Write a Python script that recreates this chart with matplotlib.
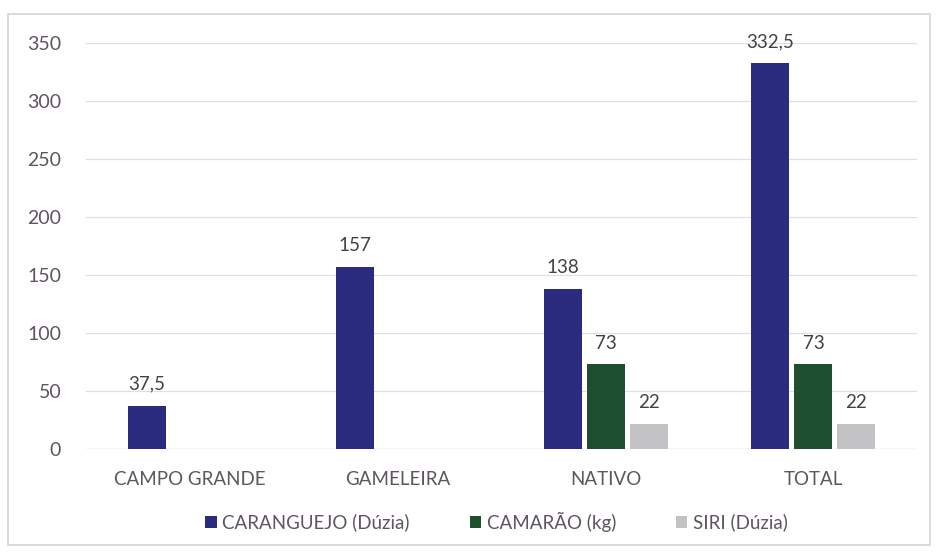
import numpy as np
import matplotlib
matplotlib.use("Agg")
import matplotlib.pyplot as plt
from matplotlib.patches import Rectangle

categories = ["CAMPO GRANDE", "GAMELEIRA", "NATIVO", "TOTAL"]
caranguejo = [37.5, 157, 138, 332.5]
camarao = [0, 0, 73, 73]
siri = [0, 0, 22, 22]
series_names = ["CARANGUEJO (Dúzia)", "CAMARÃO (kg)", "SIRI (Dúzia)"]
colors = ["#2b2b80", "#1e4f2e", "#c3c3c6"]
text_color = "#5e5560"

plt.rcParams["font.family"] = ["Lato", "DejaVu Sans"]

fig = plt.figure(figsize=(9.37, 5.56), dpi=100)
ax = fig.add_axes([0.092, 0.1924, 0.887, 0.7303])

# chart border
fig.patches.append(Rectangle((0.009, 0.02), 0.983, 0.955, transform=fig.transFigure,
                             fill=False, edgecolor="#d9d2d6", linewidth=1.2))

x = np.arange(len(categories))
width = 0.183
step = 0.207
all_series = [caranguejo, camarao, siri]
for i, (vals, col, name) in enumerate(zip(all_series, colors, series_names)):
    pos = x + (i - 1) * step
    ax.bar(pos, vals, width, color=col, label=name, zorder=3)
    for p, v in zip(pos, vals):
        if v > 0:
            lbl = f"{v:g}".replace(".", ",")
            ax.text(p, v + 11, lbl, ha="center", va="bottom", fontsize=13.5,
                    color="#454045")

ax.set_xlim(-0.5, 3.5)
ax.set_ylim(0, 350)
ax.set_yticks(range(0, 351, 50))
ax.set_xticks(x)
ax.set_xticklabels(categories)
ax.tick_params(axis="both", length=0, colors=text_color)
ax.tick_params(axis="x", pad=16, labelsize=13.5)
ax.tick_params(axis="y", pad=18, labelsize=14)
ax.grid(axis="y", color="#e0e0e0", linewidth=0.9, zorder=0)
for s in ax.spines.values():
    s.set_visible(False)
ax.axhline(0, color="#d9d9d9", linewidth=0.9, zorder=1)

leg = fig.legend(loc="center", bbox_to_anchor=(0.53, 0.062), ncol=3, frameon=False,
                 fontsize=13.5, handlelength=0.6, handleheight=0.6,
                 handletextpad=0.3, columnspacing=3.2)
for t in leg.get_texts():
    t.set_color(text_color)

fig.savefig("out.png", dpi=100)
